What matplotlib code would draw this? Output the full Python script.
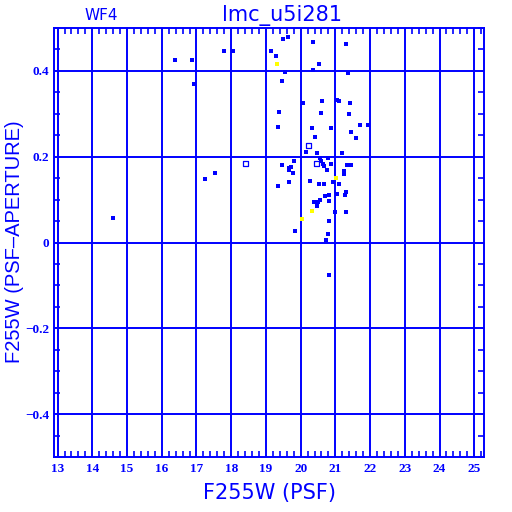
import matplotlib
matplotlib.use('Agg')
import matplotlib.pyplot as plt
from matplotlib import font_manager
from matplotlib.ticker import MultipleLocator

BLUE = '#0000ff'
YELLOW = '#ffff00'

# filled stars: F255W (PSF) and PSF-APERTURE
mag_psf = [16.38, 16.87, 16.93, 17.78, 18.04, 19.63, 19.50, 20.35, 21.30, 19.14,
           19.29, 20.53, 20.35, 19.55, 21.36, 19.47, 20.08, 20.61, 21.06, 21.10,
           21.42, 19.37, 20.58, 21.39, 21.71, 21.94, 19.35, 20.33, 20.87, 21.45,
           21.59, 20.41, 20.15, 20.47, 21.19, 20.56, 20.58, 20.80, 19.81, 20.65,
           20.67, 20.87, 19.46, 19.72, 19.66, 19.66, 19.78, 21.33, 21.45, 20.77,
           21.25, 21.26, 19.66, 20.27, 20.54, 20.67, 20.93, 21.11, 19.35, 21.32,
           21.04, 21.27, 20.81, 20.69, 20.57, 20.81, 20.38, 20.50, 20.47, 20.99,
           21.30, 20.81, 19.84, 20.79, 20.73, 20.81, 17.54, 17.24, 14.59]
diff = [0.425, 0.425, 0.369, 0.447, 0.447, 0.480, 0.475, 0.467, 0.462, 0.447,
        0.434, 0.417, 0.402, 0.398, 0.396, 0.377, 0.326, 0.330, 0.333, 0.330,
        0.326, 0.305, 0.302, 0.300, 0.274, 0.274, 0.270, 0.267, 0.267, 0.257,
        0.243, 0.245, 0.212, 0.209, 0.208, 0.196, 0.191, 0.198, 0.191, 0.182,
        0.178, 0.184, 0.180, 0.177, 0.173, 0.170, 0.161, 0.180, 0.180, 0.168,
        0.166, 0.159, 0.140, 0.143, 0.136, 0.136, 0.140, 0.136, 0.131, 0.117,
        0.114, 0.110, 0.110, 0.108, 0.098, 0.096, 0.094, 0.094, 0.084, 0.072,
        0.072, 0.050, 0.026, 0.020, 0.005, -0.076, 0.163, 0.149, 0.056]

# yellow points
mag_yel = [19.31, 21.03, 20.33, 20.04]
diff_yel = [0.415, 0.150, 0.073, 0.054]

# open squares
mag_open = [20.22, 18.41, 20.45]
diff_open = [0.227, 0.185, 0.185]

# narrow font for the long y label if it exists
names = {f.name for f in font_manager.fontManager.ttflist}
ylab_font = 'Liberation Sans Narrow' if 'Liberation Sans Narrow' in names else 'Liberation Sans'

fig = plt.figure(figsize=(5.12, 5.12), dpi=100)
ax = fig.add_axes([0.1064, 0.1074, 0.8389, 0.8379])

ax.set_xlim(12.91, 25.28)
ax.set_ylim(-0.5, 0.5)

ax.xaxis.set_major_locator(MultipleLocator(1))
ax.xaxis.set_minor_locator(MultipleLocator(0.2))
ax.yaxis.set_major_locator(MultipleLocator(0.2))
ax.yaxis.set_minor_locator(MultipleLocator(0.05))
ax.grid(True, which='major', color=BLUE, linewidth=1.4)
ax.set_axisbelow(True)

for sp in ax.spines.values():
    sp.set_color(BLUE)
    sp.set_linewidth(1.4)

ax.tick_params(which='both', direction='in', top=True, right=True, colors=BLUE)
ax.tick_params(which='major', length=0)
ax.tick_params(axis='x', which='major', pad=4)
ax.tick_params(axis='y', which='major', pad=4)
ax.tick_params(which='minor', length=4, width=1.2)

ax.set_xticks(range(13, 26))
ax.set_xticklabels([str(v) for v in range(13, 26)])
yt = [-0.4, -0.2, 0, 0.2, 0.4]
ax.set_yticks(yt)
ax.set_yticklabels(['\u22120.4', '\u22120.2', '0', '0.2', '0.4'])
for lab in ax.get_xticklabels() + ax.get_yticklabels():
    lab.set_fontfamily('Liberation Serif')
    lab.set_fontweight('bold')
    lab.set_fontsize(9.5)
    lab.set_color(BLUE)

ax.scatter(mag_psf, diff, marker='s', s=5, color=BLUE, linewidths=0, zorder=3)
ax.scatter(mag_yel, diff_yel, marker='s', s=5, color=YELLOW, linewidths=0, zorder=3)
ax.scatter(mag_open, diff_open, marker='s', s=12, facecolors='none',
           edgecolors=BLUE, linewidths=0.9, zorder=3)

ax.set_xlabel('F255W (PSF)', fontsize=15, color=BLUE, labelpad=6)
fig.text(0.028, 0.527, 'F255W (PSF\u2013APERTURE)', fontsize=14.5, color=BLUE,
         family=ylab_font, rotation=90, ha='center', va='center')

fig.text(0.551, 0.970, 'lmc_u5i281', fontsize=15, color=BLUE, ha='center', va='center')
fig.text(0.197, 0.970, 'WF4', fontsize=11, color=BLUE, ha='center', va='center')

fig.savefig('out.png', dpi=100, facecolor='white')
